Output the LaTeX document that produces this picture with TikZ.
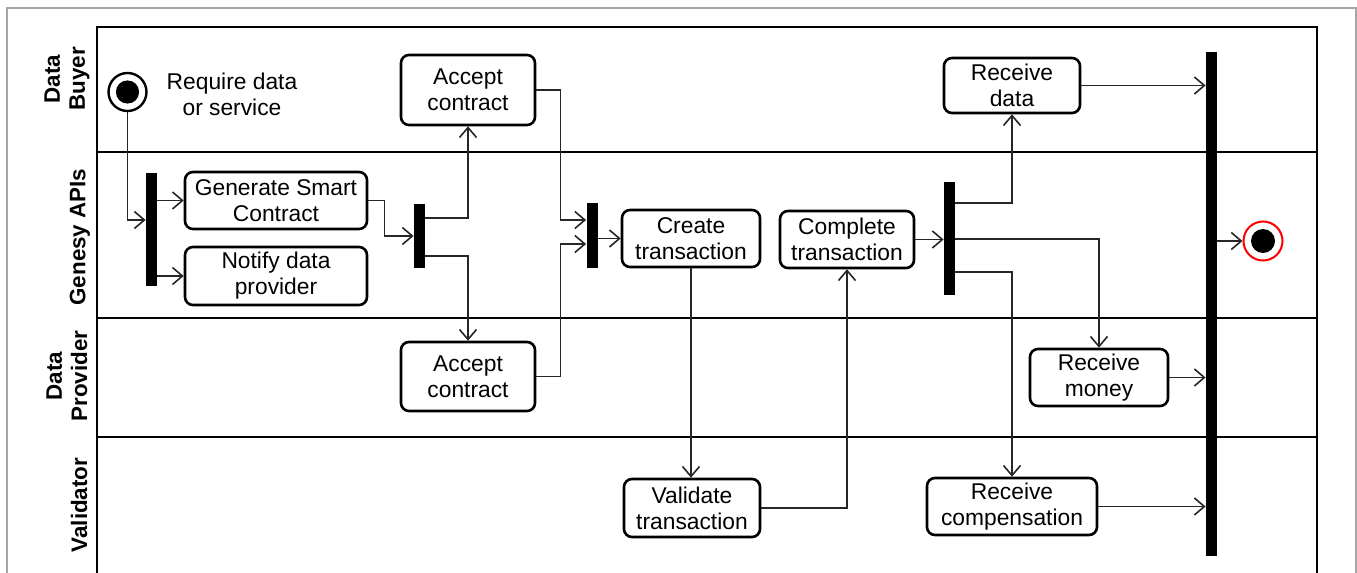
\documentclass[tikz,border=0pt]{standalone}
\usepackage{fontspec}
\setmainfont{Liberation Sans}
\usetikzlibrary{arrows.meta}

\begin{document}
\begin{tikzpicture}[x=0.5pt,y=-0.5pt,
  every node/.style={font=\fontsize{11.4pt}{13pt}\selectfont, align=center},
  act/.style={draw, rounded corners=4pt, line width=1.3pt, inner sep=0pt},
  bar/.style={fill=black, inner sep=0pt, minimum width=5.5pt},
  lane/.style={font=\bfseries\fontsize{11.2pt}{12.6pt}\selectfont, rotate=90, inner sep=0pt},
  flow/.style={draw=black!85, line width=0.7pt, -{Straight Barb[length=5pt,width=8.5pt,line width=0.8pt]}},
  frame/.style={line width=0.85pt},
  startnode/.style={circle, draw, line width=1.2pt, minimum size=19pt, inner sep=0pt,
    path picture={\fill (path picture bounding box.center) circle (5.8pt);}},
  endnode/.style={circle, draw=red, line width=1pt, minimum size=19.5pt, inner sep=0pt,
    path picture={\fill (path picture bounding box.center) circle (6pt);}},
]
\useasboundingbox (0,0) rectangle (1357,573);

% outer frame
\draw[gray!70, line width=0.8pt] (7,590) -- (7,8) -- (1356,8) -- (1356,590);
% swimlanes
\draw[frame] (97,590) -- (97,27) -- (1317,27) -- (1317,590);
\draw[frame] (97,152) -- (1317,152);
\draw[frame] (97,318) -- (1317,318);
\draw[frame] (97,437) -- (1317,437);

\node[lane] (l1) at (67,79) {Data\\Buyer};
\node[lane] (l2) at (80,237) {Genesy APIs};
\node[lane] (l3) at (67,376) {Data\\Provider};
\node[lane] (l4) at (79,505) {Validator};

% initial / final
\node[startnode] (start) at (127.5,92) {};
\node (req) at (232,94) {Require data\\or service};
\node[endnode] (end) at (1263,241) {};

% synchronisation bars
\node[bar, minimum height=56.5pt] (b1) at (151.5,229.5) {};
\node[bar, minimum height=32pt] (b2) at (419.5,236) {};
\node[bar, minimum height=32.5pt] (b3) at (592,235.5) {};
\node[bar, minimum height=56.5pt] (b4) at (949.5,238.5) {};
\node[bar, minimum height=252pt] (b5) at (1211.5,304) {};

% actions
\node[act, minimum width=91pt, minimum height=28.5pt] (gsc) at (276,200.5) {Generate Smart\\Contract};
\node[act, minimum width=91pt, minimum height=29pt] (ndp) at (276,276) {Notify data\\provider};
\node[act, minimum width=67pt, minimum height=35pt] (acc1) at (468,90) {Accept\\contract};
\node[act, minimum width=67pt, minimum height=34.5pt] (acc2) at (468,376.5) {Accept\\contract};
\node[act, minimum width=69pt, minimum height=28.5pt] (ct) at (691,238.5) {Create\\transaction};
\node[act, minimum width=67pt, minimum height=28.5pt] (cpt) at (847,239.5) {Complete\\transaction};
\node[act, minimum width=68pt, minimum height=29pt] (vt) at (692,508) {Validate\\transaction};
\node[act, minimum width=68pt, minimum height=27.5pt] (rd) at (1012,85.5) {Receive\\data};
\node[act, minimum width=69pt, minimum height=28.5pt] (rm) at (1099,377.5) {Receive\\money};
\node[act, minimum width=85pt, minimum height=28.5pt] (rc) at (1012,506.5) {Receive\\compensation};

% flows
\draw[flow] (start.south) |- (b1.west |- 0,220);
\draw[flow] (b1.east |- gsc.west) -- (gsc.west);
\draw[flow] (b1.east |- ndp.west) -- (ndp.west);
\draw[flow] (gsc.east) -- ++(16,0) |- (b2.west);
\draw[flow] (b2.east |- 0,218) -| (acc1.south);
\draw[flow] (b2.east |- 0,256) -| (acc2.north);
\draw[flow] (acc1.east) -- ++(24,0) |- (b3.west |- 0,220);
\draw[flow] (acc2.east) -- ++(24,0) |- (b3.west |- 0,244);
\draw[flow] (b3.east |- ct.west) -- (ct.west);
\draw[flow] (ct.south) -- (ct.south |- vt.north);
\draw[flow] (vt.east) -| (cpt.south);
\draw[flow] (cpt.east) -- (b4.west |- cpt.east);
\draw[flow] (b4.east |- 0,203) -| (rd.south);
\draw[flow] (b4.east |- 0,239) -| (rm.north);
\draw[flow] (b4.east |- 0,272) -| (rc.north);
\draw[flow] (rd.east) -- (b5.west |- rd.east);
\draw[flow] (rm.east) -- (b5.west |- rm.east);
\draw[flow] (rc.east) -- (b5.west |- rc.east);
\draw[flow] (b5.east |- end.west) -- (end.west);
\end{tikzpicture}
\end{document}
